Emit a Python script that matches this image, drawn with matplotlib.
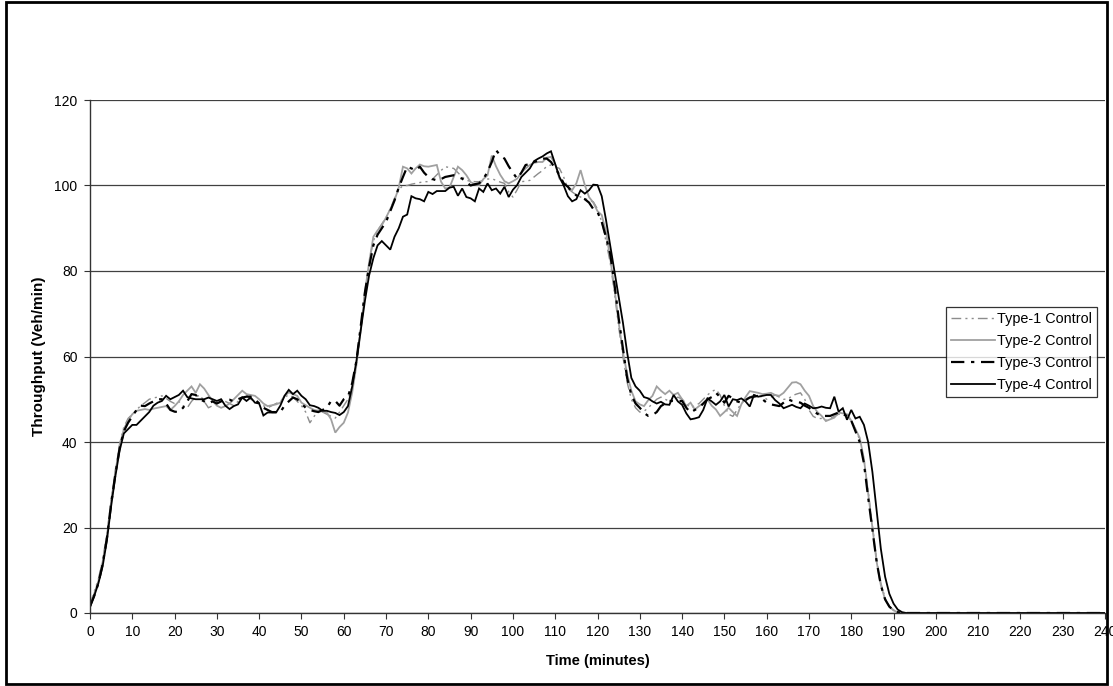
import matplotlib
matplotlib.use("Agg")
import matplotlib.pyplot as plt
from matplotlib.patches import Rectangle

plt.rcParams['font.family'] = ['Liberation Sans', 'DejaVu Sans']

# ---------------- data (minutes 0..240) ----------------
type1 = [2, 5, 8, 12.5, 18.5, 26.5, 33.5, 39.5, 43.5, 45.5, 46.5,
         47.5, 48.5, 49.2, 50, 50.3, 50.5, 50.8, 50.2, 49.5, 49,
         49.5, 48.5, 48, 49.5, 50.5, 51, 49.5, 48, 48.5, 49.5,
         50, 49.5, 49, 48.5, 49.5, 50.5, 51, 50, 49.5, 49.2,
         48.5, 48, 48.5, 49, 49.5, 50.5, 51, 50.5, 49.5, 48.5,
         47, 44.5, 46, 47.5, 47, 46.5, 46, 45.6, 47, 48.5,
         50, 53, 58.5, 66.5, 75, 82, 87, 89.5, 91, 92.5,
         94.5, 97, 99, 100, 100, 100.3, 100.5, 100.7, 100.9, 100.9,
         101.5, 102.5, 103.5, 104.4, 104.2, 104, 103, 102, 101.2, 101,
         100.9, 100.9, 101.2, 101.5, 101.6, 101.2, 100.8, 100.5, 98.5, 97.3,
         99, 100.9, 101, 101.2, 102, 102.8, 103.5, 104.5, 104.8, 104.4,
         104, 102, 99.3, 98.5, 97.8, 97.3, 97, 96.5, 96.2, 94.5,
         91.5, 87, 82, 75, 67, 60, 54, 50, 48, 47,
         47.2, 48, 49, 50, 50.5, 50, 49.5, 49.8, 50.5, 50,
         49, 48, 48.5, 49, 50, 51, 51.8, 52.3, 51, 48.5,
         46.5, 46, 47.5, 49, 50, 50.5, 51, 50.8, 50.5, 50,
         50.5, 51, 50.5, 50, 50, 50.8, 51.2, 51.5, 50, 47.5,
         46, 45.5, 45.5, 45, 45.5, 46, 46.5, 46.5, 46, 45,
         43, 40.5, 36, 28.5, 20.5, 12.5, 7, 3.5, 1.6, 0.7,
         0.2, 0, 0, 0, 0]

type2 = [1.5, 4.5, 7.5, 12, 18, 26, 33, 39, 43, 45, 46.5,
         47.3, 47.5, 47.7, 47.5, 47.8, 48, 48.2, 48.4, 47.5, 48.4,
         49.5, 51, 52, 53, 51.5, 53.5, 52.5, 51, 49.6, 48.5,
         48, 48.4, 49, 50, 51, 52, 51.2, 51, 50.8, 50,
         49, 48.4, 48.6, 48.8, 49.2, 50.8, 51.6, 51.2, 50.8, 49.2,
         48.6, 48, 47.5, 47.3, 47.1, 46.9, 45.3, 42.2, 43.5, 44.5,
         46.9, 51.6, 58, 66, 75, 82, 88, 89.5, 90.7, 92.5,
         94.5, 96.5, 99.5, 104.4, 104, 102.8, 104, 104.9, 104.5, 104.4,
         104.6, 104.8, 100.9, 99.3, 99.5, 102, 104.4, 103.6, 102.4, 100.8,
         100.3, 100.1, 101.5, 102.4, 107, 104.5, 102.5, 101, 100.5, 101,
         101.6, 103, 104, 104.8, 105.3, 105.5, 105.5, 106.5, 106.7, 105,
         101.6, 100.5, 99.7, 98.9, 100.5, 103.6, 100.1, 97.3, 96, 94,
         93.1, 89.2, 83, 76, 68, 61, 56, 52, 49.5, 48.8,
         48.4, 49.8, 50.8, 53, 52, 51.2, 52, 51, 51.5, 50,
         48.4, 49.2, 47.6, 48.4, 49, 50, 48.5, 47.6, 46.1, 47,
         48, 47, 46.1, 48.8, 50.5, 51.9, 51.7, 51.5, 51.2, 51.3,
         51.5, 51, 50.8, 51.5, 52.7, 53.9, 54, 53.5, 52, 50.8,
         48.4, 47, 46.1, 44.9, 45.3, 45.7, 46.9, 46.7, 46.5, 45,
         43, 41, 36, 28, 20, 12, 6.5, 3.2, 1.5, 0.6,
         0.2, 0, 0, 0, 0]

type3 = [1.5, 4, 7, 11.5, 17.5, 25.5, 32.5, 38.5, 42.5, 44.5, 46,
         47.5, 48.5, 48.4, 49, 49.5, 50, 50, 49, 47.5, 47.1,
         47, 48, 49.5, 51.2, 51, 50, 49.5, 49, 49.5, 49,
         49.5, 49.9, 49.9, 49.5, 50, 50.4, 50.6, 50.6, 50, 49,
         48, 47.5, 47, 47, 47, 48.5, 49.5, 50.4, 50, 49,
         48, 47.5, 47.2, 47, 47.5, 48, 49.6, 49.6, 48.5, 50,
         50.6, 53.8, 59, 67, 75, 81, 86, 88.5, 90, 91.5,
         94, 96.5, 99.5, 102, 104.4, 104, 103.5, 104.4, 103, 102,
         101.5, 101.2, 101.5, 102, 102.2, 102.4, 102, 101.6, 100.8, 100,
         100.3, 100.5, 101.5, 103.2, 105.5, 108.3, 107, 106.3, 104.5, 103,
         101.6, 103, 104.8, 105, 105.5, 105.8, 106.3, 106.3, 105.5, 104,
         102.5, 100.5, 99.7, 98.5, 97.7, 97.2, 96.8, 96, 94.5, 93.8,
         91.5, 88, 84, 77, 69, 62, 55, 51, 49, 48,
         46.8, 46.1, 46.3, 47, 48.4, 49, 49.6, 49.6, 49.6, 49.6,
         48, 46.9, 47.5, 48, 49, 50, 50.5, 51.5, 50.5, 49.2,
         50.8, 50.2, 49.5, 49.2, 49.8, 50.4, 50.6, 50.8, 50, 49.2,
         48.8, 48.6, 48.4, 49.2, 50, 49.6, 49.4, 49.2, 48.5, 48,
         47.2, 46.6, 46.1, 46.1, 46.1, 46.5, 46.9, 46.5, 46.1, 45,
         42.5, 40, 35, 27, 19.5, 12, 6.5, 3.2, 1.5, 0.6,
         0.2, 0, 0, 0, 0]

type4 = [1.5, 4, 7, 11, 17, 25, 32, 38, 42, 43, 44,
         44, 45, 46, 47, 48.5, 49.2, 49.6, 50.8, 50, 50.5,
         51, 52, 50.5, 50.2, 50, 50, 50, 50.4, 50, 49.6,
         50, 48.5, 47.7, 48.4, 48.8, 50.4, 49.6, 50.4, 49.2, 49,
         46.2, 46.9, 46.9, 46.9, 48.5, 50.8, 52.2, 51.2, 52, 50.8,
         50, 48.6, 48.4, 48, 47.3, 47.3, 47, 46.8, 46.3, 47,
         48.4, 53, 59, 66, 73, 79, 83, 86, 87, 86,
         85, 88, 90, 92.7, 93.2, 97.5, 97, 96.8, 96.3, 98.5,
         98, 98.7, 98.7, 98.7, 99.5, 99.7, 97.6, 99.3, 97.3, 97,
         96.3, 99.3, 98.5, 100.5, 98.9, 99.3, 98.1, 99.7, 97.3, 99,
         100.1, 102, 103, 104, 105.7, 106.3, 106.8, 107.5, 108, 105,
         102, 100, 97.5, 96.3, 96.8, 98.9, 98.1, 98.9, 100.2, 100.1,
         97.5, 92, 86, 80, 74, 68, 61, 55, 53, 52,
         50.5, 50.2, 49.5, 49, 49.4, 48.8, 48.7, 51, 49.5, 48.7,
         46.7, 45.3, 45.5, 45.8, 47.5, 50.2, 49.5, 48.7, 49.5, 51,
         48.3, 50, 49.8, 50.2, 49.5, 48.3, 51, 50.6, 50.8, 51,
         51, 49.8, 49, 47.9, 48.3, 48.7, 48.2, 47.9, 49, 48.5,
         47.9, 48, 48.3, 48, 47.9, 50.6, 47.1, 47.9, 45.2, 47.5,
         45.5, 45.9, 44, 40, 33, 24, 15, 8.5, 4.5, 2.2,
         0.8, 0.2, 0, 0, 0]

# minutes 196..240: no throughput
tail = [0, 0, 0, 0, 0, 0, 0, 0, 0, 0, 0, 0, 0, 0, 0,
        0, 0, 0, 0, 0, 0, 0, 0, 0, 0, 0, 0, 0, 0, 0,
        0, 0, 0, 0, 0, 0, 0, 0, 0, 0, 0, 0, 0, 0, 0]

series_names = ["Type-1 Control", "Type-2 Control", "Type-3 Control", "Type-4 Control"]
x_ticks = [0, 10, 20, 30, 40, 50, 60, 70, 80, 90, 100, 110, 120, 130, 140, 150,
           160, 170, 180, 190, 200, 210, 220, 230, 240]
y_ticks = [0, 20, 40, 60, 80, 100, 120]

series = [type1 + tail, type2 + tail, type3 + tail, type4 + tail]
minutes = list(range(len(series[0])))

styles = [
    dict(color="#8c8c8c", lw=1.0, ls=(0, (7, 3, 1.5, 3, 1.5, 3))),
    dict(color="#a0a0a0", lw=1.3, ls="-"),
    dict(color="black", lw=1.6, ls=(0, (6, 3, 1.5, 3))),
    dict(color="black", lw=1.3, ls="-"),
]

W, H = 1113, 686
fig = plt.figure(figsize=(W / 100, H / 100), dpi=100)
ax = fig.add_axes([90 / W, 1 - 613 / H, (1105 - 90) / W, (613 - 100) / H])

for name, ys, st in zip(series_names, series, styles):
    ax.plot(minutes, ys, label=name, color=st["color"], lw=st["lw"],
            linestyle=st["ls"], solid_joinstyle="miter")

ax.set_xlim(0, 240)
ax.set_ylim(0, 120)
ax.set_xticks(x_ticks)
ax.set_yticks(y_ticks)
ax.tick_params(axis="both", labelsize=10, direction="out", length=4, width=0.8,
               color="#333333", pad=5)
ax.grid(axis="y", color="#404040", lw=0.9)
ax.set_axisbelow(True)
for s in ["top", "right"]:
    ax.spines[s].set_visible(False)
for s in ["left", "bottom"]:
    ax.spines[s].set_color("#333333")
    ax.spines[s].set_linewidth(1.0)

ax.set_xlabel("Time (minutes)", fontsize=10.5, fontweight="bold", labelpad=10.5)
ax.set_ylabel("Throughput (Veh/min)", fontsize=11, fontweight="bold", labelpad=6)

leg = ax.legend(loc="center right", bbox_to_anchor=(0.992, 0.509), fontsize=10.4,
                frameon=True, fancybox=False, handlelength=3.0, handletextpad=0.15,
                borderpad=0.35, labelspacing=0.55, borderaxespad=0)
leg.get_frame().set_edgecolor("black")
leg.get_frame().set_linewidth(0.9)

# chart border
fig.patches.append(Rectangle((6 / W, 2 / H), (1107 - 6) / W, (684 - 2) / H,
                             transform=fig.transFigure, fill=False,
                             edgecolor="black", lw=2))

fig.savefig("out.png", dpi=100)
